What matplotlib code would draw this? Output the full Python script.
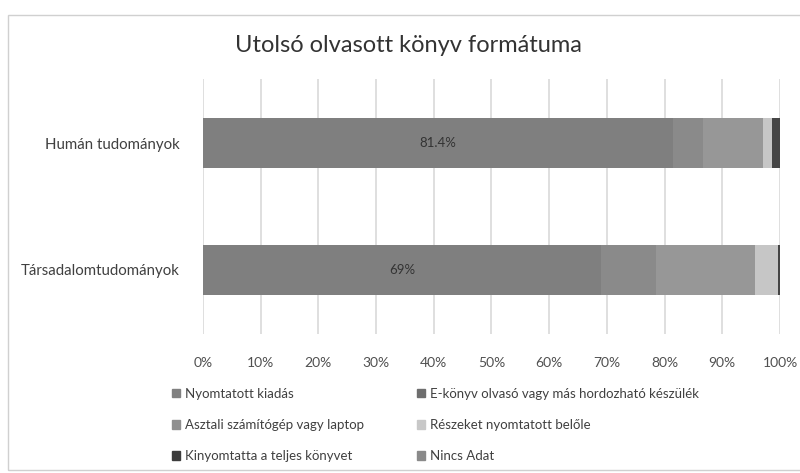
import matplotlib
matplotlib.use("Agg")
import matplotlib.pyplot as plt
from matplotlib.patches import Rectangle
from matplotlib.ticker import PercentFormatter

plt.rcParams['font.family'] = ['Lato', 'DejaVu Sans']

categories = ["Humán tudományok", "Társadalomtudományok"]
series_names = ["Nyomtatott kiadás",
                "E-könyv olvasó vagy más hordozható készülék",
                "Asztali számítógép vagy laptop",
                "Részeket nyomtatott belőle",
                "Kinyomtatta a teljes könyvet",
                "Nincs Adat"]
nyomtatott = [81.4, 69.0]
ekonyv = [5.2, 9.5]
asztali = [10.4, 17.2]
reszeket = [1.7, 3.9]
kinyomtatta = [1.3, 0.4]
nincs_adat = [0.0, 0.0]
data_labels = ["81.4%", "69%"]
xticks = [0, 10, 20, 30, 40, 50, 60, 70, 80, 90, 100]

series = [nyomtatott, ekonyv, asztali, reszeket, kinyomtatta, nincs_adat]
colors = ["#7f7f7f", "#8a8a8a", "#979797", "#c6c6c6", "#454545", "#8c8c8c"]
legend_colors = ["#808080", "#6e6e6e", "#8f8f8f", "#c8c8c8", "#3c3c3c", "#8a8a8a"]

fig = plt.figure(figsize=(8, 4.73), dpi=100)
fig.patches.append(Rectangle((8/800, 3/473), 1.2, (458-3)/473,
                             transform=fig.transFigure, fill=False,
                             edgecolor="#d0d0d0", linewidth=1.0))
ax = fig.add_axes([203/800, 1 - 333.5/473, (780-203)/800, (333.5-79.5)/473])

ypos = list(range(len(categories)))
left = [0.0] * len(categories)
for vals, col, name in zip(series, colors, series_names):
    ax.barh(ypos, vals, left=left, height=0.39, color=col, label=name,
            zorder=3)
    left = [l + v for l, v in zip(left, vals)]

for i, lab in enumerate(data_labels):
    ax.text(nyomtatott[i] / 2, ypos[i], lab, ha="center", va="center",
            fontsize=9.5, color="#333333", zorder=4)

ax.set_xlim(0, 100)
ax.set_ylim(len(categories) - 0.5, -0.5)
ax.set_yticks(ypos)
ax.set_yticklabels(categories, fontsize=10.8, color="#404040")
ax.set_xticks(xticks)
ax.xaxis.set_major_formatter(PercentFormatter(decimals=0))
ax.tick_params(axis="x", labelsize=10, labelcolor="#505050", length=0, pad=17)
ax.tick_params(axis="y", length=0, pad=17)
ax.grid(axis="x", color="#d9d9d9", linewidth=1.2, zorder=0)
for s in ax.spines.values():
    s.set_visible(False)

fig.text(0.51, 1 - 45/473, "Utolsó olvasott könyv formátuma", ha="center",
         va="center", fontsize=17, color="#333333")

# legend
order = [0, 2, 4, 1, 3, 5]
handles = [Rectangle((0, 0), 1, 1, color=legend_colors[i]) for i in order]
labels = [series_names[i] for i in order]
fig.legend(handles, labels, ncol=2, loc="upper left",
           bbox_to_anchor=(160/800, 1 - 376/473), frameon=False,
           fontsize=9.5, handlelength=0.6, handleheight=0.6,
           handletextpad=0.4, columnspacing=4.0, labelspacing=1.45,
           labelcolor="#404040")

fig.savefig("out.png", dpi=100)
